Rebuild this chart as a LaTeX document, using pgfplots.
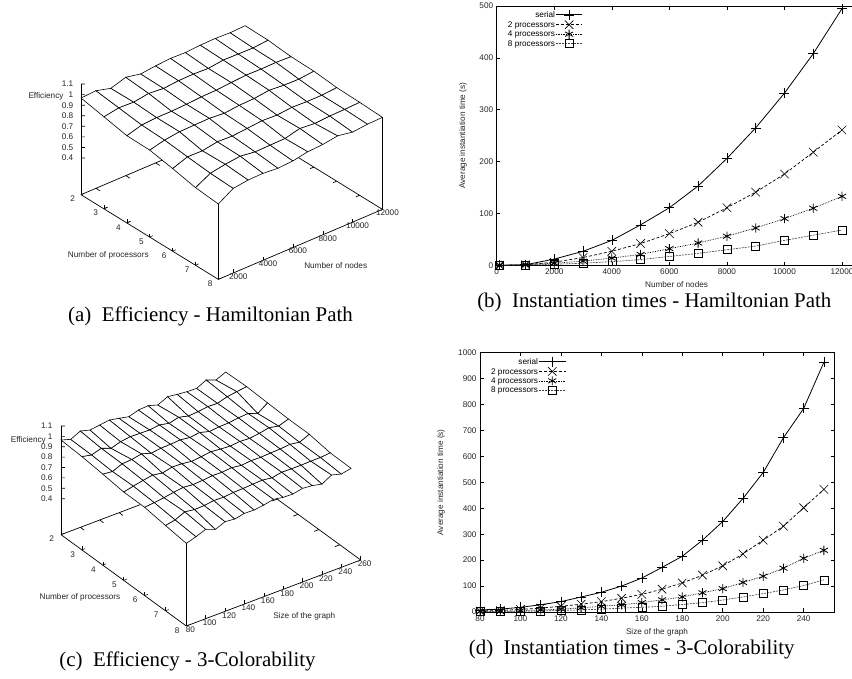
\documentclass[border=0pt]{standalone}
\usepackage{fontspec}
\setmainfont{Liberation Sans}
\newfontfamily\capfont{Liberation Serif}
\usepackage{pgfplots}
\pgfplotsset{compat=1.18}
\newcommand\tl{\fontsize{8.2}{9}\selectfont}
\pgfplotsset{
  common/.style={
    /pgf/number format/assume math mode=true,
    /pgf/number format/1000 sep={},
    scaled ticks=false,
    every tick label/.append style={font=\tl,text=black!85},
    label style={font=\tl,text=black!85},
    every axis plot/.append style={line width=0.7pt},
  },
  two/.style={
    common, scale only axis, anchor=south west, clip=true,
    axis line style={line width=0.7pt},
    major tick length=3.5pt,
    tick style={line width=0.5pt,black},
    legend plot pos=right,
    legend cell align=right,
    legend style={draw=none,fill=none,font=\tl,inner sep=0pt,outer sep=0pt,row sep=0.6pt,
      /tikz/column 2/.style={column sep=5pt},
      nodes={inner sep=0.5pt,text depth=0pt}},
    legend image code/.code={\draw[mark repeat=2,mark phase=2,##1] plot coordinates {(0pt,0pt)(13.3pt,0pt)(26.6pt,0pt)};},
  },
  three/.style={
    common, anchor=origin, clip=false,
    axis x line*=bottom, axis y line*=left, axis z line*=left,
    axis line style={line width=0.7pt,-},
    major tick length=3.5pt,
    tick style={line width=0.5pt,black},
    tick align=inside,
    ztick style={draw=none},
    ztick={0.4,0.5,0.6,0.7,0.8,0.9,1,1.1},
    zticklabels={0.4,0.5,0.6,0.7,0.8,0.9,1,1.1},
    ytick={2,3,4,5,6,7,8},
    colormap={allwhite}{color=(white) color=(white)},
  },
  sty s/.style={black,line width=0.8pt,mark=+,mark size=5pt,mark options={solid,line width=0.6pt}},
  sty a/.style={black,line width=0.7pt,densely dashed,mark=x,mark size=6pt,mark options={solid,line width=0.6pt}},
  sty b/.style={black,line width=0.7pt,densely dotted,mark=asterisk,mark size=4.6pt,mark options={solid,line width=0.8pt}},
  sty c/.style={black!75,line width=0.6pt,dash pattern=on 2pt off 1pt,mark=square,mark size=4pt,mark options={solid,black,line width=0.6pt}},
}
\begin{document}
\begin{tikzpicture}[x=1pt,y=1pt]
\path[use as bounding box,clip] (0,0) rectangle (852,678);

% (a)
\begin{axis}[three, at={(81pt,483.3pt)},
  x={(0.01493pt,0.006363pt)}, y={(22.89pt,-14.11pt)}, z={(0pt,105.67pt)},
  xmin=1000,xmax=12000,ymin=2,ymax=8,zmin=0.053,zmax=1.1,
  xtick={2000,4000,6000,8000,10000,12000},
  xticklabel style={anchor=center,xshift=5pt,yshift=-3.5pt},
  yticklabel style={anchor=center,xshift=-8.3pt,yshift=-4.3pt},
  zticklabel style={anchor=east,xshift=-4.3pt},
  xlabel={Number of nodes},
  every axis x label/.style={at={(axis cs:1000,2,0.053)},anchor=center,xshift=254.7pt,yshift=-71.3pt,font=\tl,text=black!85},
  ylabel={Number of processors},
  every axis y label/.style={at={(axis cs:1000,2,0.053)},anchor=center,xshift=27.3pt,yshift=-60.3pt,font=\tl,text=black!85},
  zlabel={Efficiency},
  every axis z label/.style={at={(axis cs:1000,2,0.053)},anchor=center,xshift=-35pt,yshift=98.7pt,font=\tl,text=black!85},
]
\addplot3[black,line width=0.7pt,unbounded coords=jump,no markers] coordinates {
 (1000,2,0.053)(12000,2,0.053)(12000,8,0.053) (nan,nan,nan)
 (2000,2,0.053)(2000,2.18,0.053) (nan,nan,nan)
 (4000,2,0.053)(4000,2.18,0.053) (nan,nan,nan)
 (6000,2,0.053)(6000,2.18,0.053) (nan,nan,nan)
 (1000,3,0.053)(1250,3,0.053) (nan,nan,nan)
 (1000,4,0.053)(1250,4,0.053) (nan,nan,nan)
 (12000,5,0.053)(11750,5,0.053) (nan,nan,nan)
 (12000,6,0.053)(11750,6,0.053) (nan,nan,nan)
 (12000,7,0.053)(11750,7,0.053) (nan,nan,nan)
 (1000,2,0.4)(1158.4,2.0714,0.4) (nan,nan,nan)
 (1000,2,0.5)(1158.4,2.0714,0.5) (nan,nan,nan)
 (1000,2,0.6)(1158.4,2.0714,0.6) (nan,nan,nan)
 (1000,2,0.7)(1158.4,2.0714,0.7) (nan,nan,nan)
 (1000,2,0.8)(1158.4,2.0714,0.8) (nan,nan,nan)
 (1000,2,0.9)(1158.4,2.0714,0.9) (nan,nan,nan)
 (1000,2,1)(1158.4,2.0714,1) (nan,nan,nan)
 (1000,2,1.1)(1158.4,2.0714,1.1)
};
\addplot3[surf,shader=faceted,faceted color=black,z buffer=sort,mesh/rows=7,mesh/ordering=x varies,line width=0.6pt] coordinates {
(1000,2,.968)(2000,2,.977)(3000,2,.939)(4000,2,.984)(5000,2,.955)(6000,2,.971)(7000,2,.982)(8000,2,.977)(9000,2,.987)(10000,2,.990)(11000,2,.984)(12000,2,.990)

(1000,3,.924)(2000,3,.949)(3000,3,.943)(4000,3,.965)(5000,3,.952)(6000,3,.965)(7000,3,.968)(8000,3,.961)(9000,3,.980)(10000,3,.977)(11000,3,.974)(12000,3,.987)

(1000,4,.879)(2000,4,.920)(3000,4,.930)(4000,4,.930)(5000,4,.936)(6000,4,.946)(7000,4,.949)(8000,4,.961)(9000,4,.971)(10000,4,.968)(11000,4,.971)(12000,4,.965)

(1000,5,.876)(2000,5,.911)(3000,5,.930)(4000,5,.933)(5000,5,.936)(6000,5,.924)(7000,5,.939)(8000,5,.943)(9000,5,.961)(10000,5,.949)(11000,5,.946)(12000,5,.961)

(1000,6,.835)(2000,6,.886)(3000,6,.883)(4000,6,.908)(5000,6,.902)(6000,6,.914)(7000,6,.927)(8000,6,.920)(9000,6,.933)(10000,6,.927)(11000,6,.927)(12000,6,.939)

(1000,7,.788)(2000,7,.864)(3000,7,.889)(4000,7,.905)(5000,7,.886)(6000,7,.889)(7000,7,.892)(8000,7,.927)(9000,7,.914)(10000,7,.924)(11000,7,.927)(12000,7,.933)

(1000,8,.766)(2000,8,.854)(3000,8,.873)(4000,8,.876)(5000,8,.864)(6000,8,.873)(7000,8,.900)(8000,8,.908)(9000,8,.930)(10000,8,.905)(11000,8,.920)(12000,8,.924)
};
\addplot3[black,line width=0.7pt,unbounded coords=jump,no markers] coordinates {
 (1000,8,0.053)(1000,8,.766) (nan,nan,nan) (12000,8,0.053)(12000,8,.924)
};
\end{axis}

% (b)
\begin{axis}[two, at={(496.7pt,412.7pt)}, width=359.7pt, height=259.3pt,
  xmin=0,xmax=12500,ymin=0,ymax=500,
  xtick={0,2000,4000,6000,8000,10000,12000},
  ytick={0,100,200,300,400,500},
  xlabel={Number of nodes},ylabel={Average instantiation time (s)},
  ylabel style={at={(axis description cs:-0.0937,0.5)},anchor=center},
  legend style={at={(0.03,0.985)},anchor=north west},
]
\addplot[sty s] coordinates {(100,0)(1000,1)(2000,12)(3000,27)(4000,48)(5000,78)(6000,111)(7000,153)(8000,206)(9000,265)(10000,332)(11000,408)(12000,495)};
\addplot[sty a] coordinates {(100,0)(1000,1)(2000,6)(3000,15)(4000,27)(5000,42)(6000,61)(7000,83)(8000,111)(9000,141)(10000,176)(11000,218)(12000,261)};
\addplot[sty b] coordinates {(100,0)(1000,1)(2000,4)(3000,8)(4000,14)(5000,21)(6000,32)(7000,43)(8000,56)(9000,72)(10000,90)(11000,110)(12000,133)};
\addplot[sty c] coordinates {(100,0)(1000,0.5)(2000,2)(3000,4)(4000,7)(5000,11)(6000,17)(7000,23)(8000,30)(9000,37)(10000,48)(11000,58)(12000,68)};
\legend{serial,2 processors,4 processors,8 processors}
\end{axis}

% (c)
\begin{axis}[three, at={(61pt,143.33pt)},
  x={(0.9687pt,0.3667pt)}, y={(20.89pt,-15.22pt)}, z={(0pt,103.8pt)},
  xmin=80,xmax=260,ymin=2,ymax=8,zmin=0.053,zmax=1.1,
  xtick={80,100,120,140,160,180,200,220,240,260},
  xticklabel style={anchor=center,xshift=4pt,yshift=-4pt},
  yticklabel style={anchor=center,xshift=-9.3pt,yshift=-4.3pt},
  zticklabel style={anchor=east,xshift=-5pt},
  xlabel={Size of the graph},
  every axis x label/.style={at={(axis cs:80,2,0.053)},anchor=center,xshift=243.3pt,yshift=-81.3pt,font=\tl,text=black!85},
  ylabel={Number of processors},
  every axis y label/.style={at={(axis cs:80,2,0.053)},anchor=center,xshift=19pt,yshift=-62.3pt,font=\tl,text=black!85},
  zlabel={Efficiency},
  every axis z label/.style={at={(axis cs:80,2,0.053)},anchor=center,xshift=-32.7pt,yshift=94.67pt,font=\tl,text=black!85},
]
\addplot3[black,line width=0.7pt,unbounded coords=jump,no markers] coordinates {
 (80,2,0.053)(260,2,0.053)(260,8,0.053) (nan,nan,nan)
 (100,2,0.053)(100,2.18,0.053) (nan,nan,nan)
 (120,2,0.053)(120,2.18,0.053) (nan,nan,nan)
 (140,2,0.053)(140,2.18,0.053) (nan,nan,nan)
 (260,4,0.053)(255,4,0.053) (nan,nan,nan)
 (260,5,0.053)(255,5,0.053) (nan,nan,nan)
 (260,6,0.053)(255,6,0.053) (nan,nan,nan)
 (260,7,0.053)(255,7,0.053) (nan,nan,nan)
 (80,2,0.4)(82.717,2.0655,0.4) (nan,nan,nan)
 (80,2,0.5)(82.717,2.0655,0.5) (nan,nan,nan)
 (80,2,0.6)(82.717,2.0655,0.6) (nan,nan,nan)
 (80,2,0.7)(82.717,2.0655,0.7) (nan,nan,nan)
 (80,2,0.8)(82.717,2.0655,0.8) (nan,nan,nan)
 (80,2,0.9)(82.717,2.0655,0.9) (nan,nan,nan)
 (80,2,1)(82.717,2.0655,1) (nan,nan,nan)
 (80,2,1.1)(82.717,2.0655,1.1)
};
\addplot3[surf,shader=faceted,faceted color=black,z buffer=sort,mesh/rows=7,mesh/ordering=x varies,line width=0.6pt] coordinates {
(80,2,.965)(90,2,.936)(100,2,.981)(110,2,.955)(120,2,.968)(130,2,.981)(140,2,.962)(150,2,.942)(160,2,.971)(170,2,.978)(180,2,.949)(190,2,.994)(200,2,.981)(210,2,.971)(220,2,.968)(230,2,1.013)(240,2,.978)(250,2,1.019)

(80,3,.952)(90,3,.933)(100,3,.962)(110,3,.926)(120,3,.955)(130,3,.968)(140,3,.965)(150,3,.962)(160,3,.975)(170,3,.955)(180,3,.978)(190,3,.955)(200,3,.962)(210,3,.975)(220,3,.971)(230,3,1.000)(240,3,1.013)(250,3,1.026)

(80,4,.930)(90,4,.920)(100,4,.959)(110,4,.965)(120,4,.984)(130,4,.955)(140,4,.968)(150,4,.971)(160,4,.978)(170,4,.965)(180,4,.978)(190,4,.952)(200,4,.962)(210,4,.965)(220,4,.978)(230,4,.984)(240,4,.949)(250,4,1.016)

(80,5,.904)(90,5,.926)(100,5,.946)(110,5,.962)(120,5,.946)(130,5,.968)(140,5,.965)(150,5,.952)(160,5,.962)(170,5,.975)(180,5,.965)(190,5,.959)(200,5,.968)(210,5,.962)(220,5,.975)(230,5,.994)(240,5,.975)(250,5,1.007)

(80,6,.904)(90,6,.914)(100,6,.926)(110,6,.942)(120,6,.955)(130,6,.946)(140,6,.952)(150,6,.962)(160,6,.959)(170,6,.968)(180,6,.955)(190,6,.965)(200,6,.962)(210,6,.968)(220,6,.971)(230,6,.981)(240,6,.965)(250,6,1.007)

(80,7,.875)(90,7,.894)(100,7,.936)(110,7,.923)(120,7,.926)(130,7,.939)(140,7,.936)(150,7,.946)(160,7,.949)(170,7,.955)(180,7,.959)(190,7,.946)(200,7,.965)(210,7,.962)(220,7,.962)(230,7,.965)(240,7,.965)(250,7,.975)

(80,8,.849)(90,8,.878)(100,8,.914)(110,8,.878)(120,8,.917)(130,8,.907)(140,8,.926)(150,8,.923)(160,8,.936)(170,8,.955)(180,8,.939)(190,8,.936)(200,8,.955)(210,8,.946)(220,8,.926)(230,8,.978)(240,8,.952)(250,8,.971)
};
\addplot3[black,line width=0.7pt,no markers] coordinates {(80,8,0.053)(80,8,.849)};
\end{axis}

% (d)
\begin{axis}[two, at={(480pt,66pt)}, width=354pt, height=259.3pt,
  xmin=80,xmax=255,ymin=0,ymax=1000,
  xtick={80,100,120,140,160,180,200,220,240},
  ytick={0,100,200,300,400,500,600,700,800,900,1000},
  xlabel={Size of the graph},ylabel={Average instantiation time (s)},
  ylabel style={at={(axis description cs:-0.11,0.5)},anchor=center},
  legend style={at={(0.03,0.985)},anchor=north west},
]
\addplot[sty s] coordinates {(80,8)(90,11)(100,18)(110,28)(120,40)(130,58)(140,76)(150,100)(160,131)(170,172)(180,215)(190,277)(200,349)(210,438)(220,538)(230,672)(240,785)(250,963)};
\addplot[sty a] coordinates {(80,4)(90,6)(100,10)(110,15)(120,22)(130,30)(140,40)(150,53)(160,68)(170,88)(180,112)(190,142)(200,178)(210,224)(220,277)(230,331)(240,402)(250,473)};
\addplot[sty b] coordinates {(80,2)(90,3)(100,5)(110,8)(120,11)(130,16)(140,22)(150,28)(160,36)(170,47)(180,58)(190,74)(200,90)(210,114)(220,138)(230,169)(240,207)(250,238)};
\addplot[sty c] coordinates {(80,1)(90,2)(100,3)(110,4)(120,6)(130,8)(140,11)(150,15)(160,18)(170,22)(180,29)(190,36)(200,46)(210,58)(220,71)(230,85)(240,102)(250,124)};
\legend{serial,2 processors,4 processors,8 processors}
\end{axis}

\node[font=\capfont\fontsize{20.9}{23}\selectfont] at (210.5,362) {(a)\ \ Efficiency - Hamiltonian Path};
\node[font=\capfont\fontsize{20.9}{23}\selectfont] at (654.3,376) {(b)\ \ Instantiation times - Hamiltonian Path};
\node[font=\capfont\fontsize{20.9}{23}\selectfont] at (187.5,16.3) {(c)\ \ Efficiency - 3-Colorability};
\node[font=\capfont\fontsize{20.9}{23}\selectfont] at (631.7,28.7) {(d)\ \ Instantiation times - 3-Colorability};
\end{tikzpicture}
\end{document}
